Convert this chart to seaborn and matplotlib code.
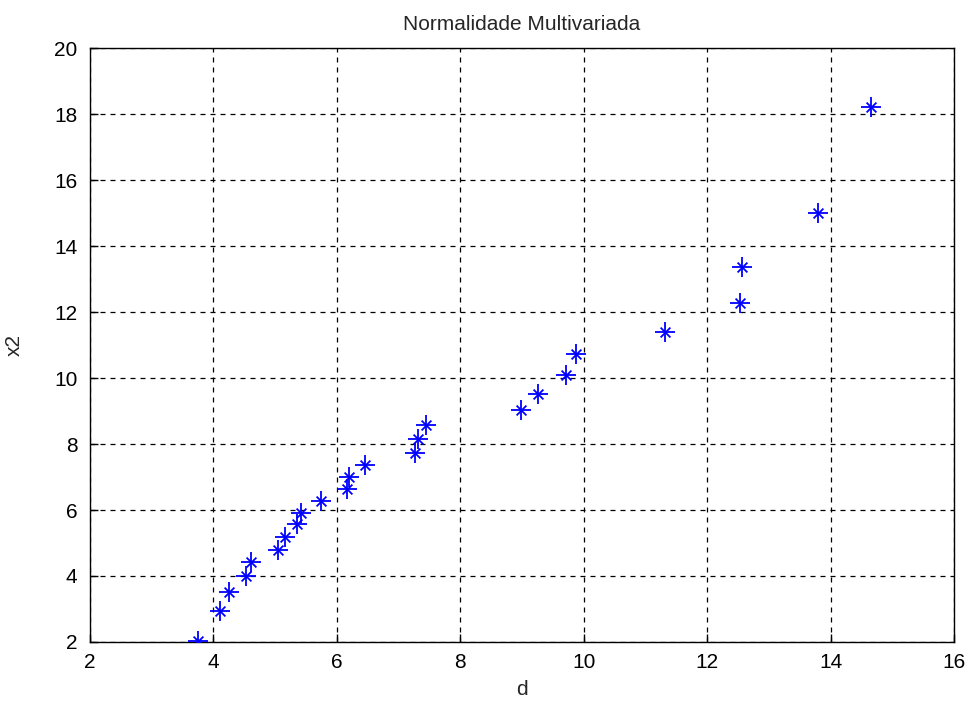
import matplotlib
matplotlib.use("Agg")
import matplotlib.pyplot as plt
import seaborn as sns
import pandas as pd

d = [3.75, 4.10, 4.26, 4.52, 4.61, 5.04, 5.16, 5.36, 5.42, 5.75, 6.16, 6.20, 6.46,
     7.27, 7.31, 7.45, 8.99, 9.26, 9.71, 9.87, 11.32, 12.54, 12.57, 13.79, 14.66]
x2 = [2.02, 2.94, 3.52, 4.00, 4.41, 4.79, 5.19, 5.58, 5.90, 6.26, 6.63, 7.01, 7.37,
      7.74, 8.16, 8.59, 9.04, 9.53, 10.10, 10.74, 11.41, 12.26, 13.37, 15.00, 18.21]
xticks = [2, 4, 6, 8, 10, 12, 14, 16]
yticks = [2, 4, 6, 8, 10, 12, 14, 16, 18, 20]

df = pd.DataFrame({"d": d, "x2": x2})

sns.set_style("white")
plt.rcParams["font.family"] = ["Liberation Sans", "DejaVu Sans"]

fig = plt.figure(figsize=(9.74, 7.02), dpi=100)
ax = fig.add_axes([0.0924, 0.0855, 0.887, 0.846])

sns.scatterplot(data=df, x="d", y="x2", marker="+", s=190, color="#0000ff",
                linewidth=1.3, ax=ax, zorder=3)
sns.scatterplot(data=df, x="d", y="x2", marker="x", s=50, color="#0000ff",
                linewidth=1.3, ax=ax, zorder=3)

ax.set_xlim(2, 16)
ax.set_ylim(2, 20)
ax.set_xticks(xticks)
ax.set_yticks(yticks)
ax.grid(True, color="black", linestyle=(0, (4, 4)), linewidth=0.9)
ax.tick_params(axis="both", direction="in", length=6, width=1, labelsize=15,
               colors="black", top=False, right=False, bottom=True, left=True)
ax.tick_params(axis="x", pad=8)
ax.tick_params(axis="y", pad=9)
for s in ax.spines.values():
    s.set_color("black")
    s.set_linewidth(1)
ax.set_xlabel("d", fontsize=15, labelpad=6)
ax.set_ylabel("x2", fontsize=15, labelpad=22)
ax.set_title("Normalidade Multivariada", fontsize=15, pad=13)

fig.savefig("out.png", dpi=100, facecolor="white")
